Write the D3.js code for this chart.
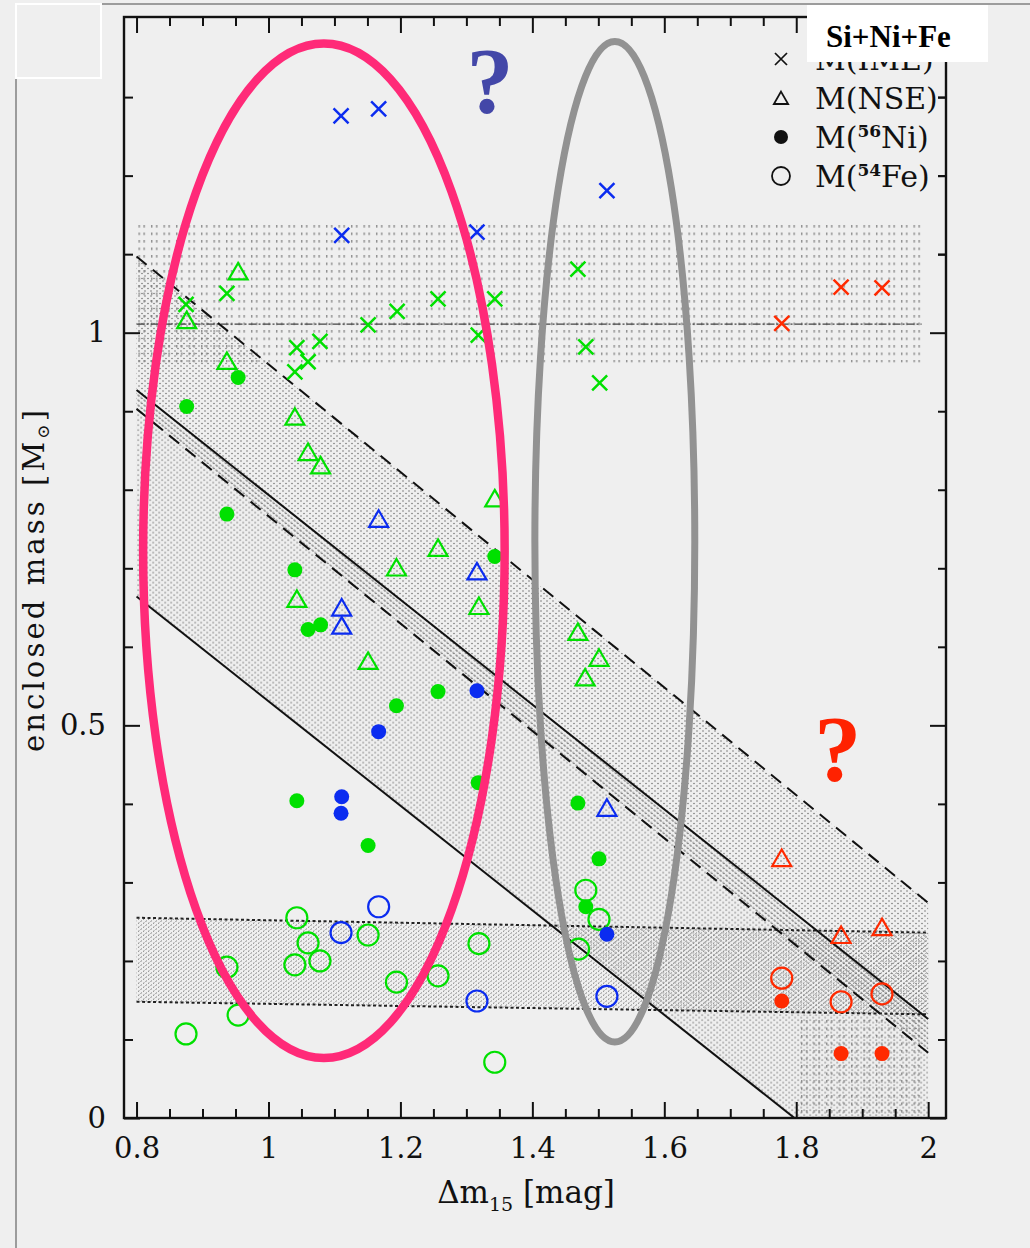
<!DOCTYPE html>
<html><head><meta charset="utf-8">
<script src="https://cdn.jsdelivr.net/npm/d3@7"></script>
<style>html,body{margin:0;padding:0;background:#efefef;}svg{display:block}</style>
</head><body>
<svg id="chart" width="1030" height="1248"></svg>
<script>
// ---------------- data ----------------
const xTickValues = [0.8, 1, 1.2, 1.4, 1.6, 1.8, 2];
const xTickLabels = ["0.8", "1", "1.2", "1.4", "1.6", "1.8", "2"];
const yTickValues = [0, 0.5, 1];
const yTickLabels = ["0", "0.5", "1"];

// M(IME) crosses
const imeGreen = [[0.875,1.036],[0.937,1.050],[1.043,0.981],[1.040,0.950],[1.060,0.963],[1.078,0.989],[1.151,1.010],[1.195,1.027],[1.257,1.043],[1.318,0.997],[1.343,1.043],[1.469,1.081],[1.481,0.982],[1.502,0.936]];
const imeBlue  = [[1.111,1.124],[1.110,1.276],[1.167,1.285],[1.316,1.128],[1.513,1.181]];
const imeRed   = [[1.778,1.012],[1.868,1.058],[1.930,1.057]];
// M(NSE) triangles
const nseGreen = [[0.876,1.016],[0.954,1.078],[0.937,0.964],[1.040,0.893],[1.060,0.848],[1.079,0.831],[1.343,0.789],[1.257,0.726],[1.194,0.701],[1.043,0.661],[1.319,0.652],[1.151,0.582],[1.469,0.619],[1.501,0.586],[1.480,0.561]];
const nseBlue  = [[1.167,0.763],[1.316,0.696],[1.111,0.650],[1.111,0.627],[1.513,0.395]];
const nseRed   = [[1.778,0.331],[1.868,0.233],[1.930,0.243]];
// M(56Ni) filled circles
const niGreen = [[0.954,0.943],[0.876,0.906],[0.937,0.769],[1.343,0.715],[1.040,0.698],[1.060,0.622],[1.079,0.628],[1.257,0.543],[1.194,0.525],[1.318,0.427],[1.043,0.404],[1.151,0.347],[1.469,0.401],[1.501,0.330],[1.481,0.269]];
const niBlue  = [[1.316,0.544],[1.167,0.492],[1.111,0.409],[1.110,0.388],[1.513,0.234]];
const niRed   = [[1.778,0.149],[1.868,0.082],[1.930,0.082]];
// M(54Fe) open circles
const feGreen = [[1.043,0.255],[1.060,0.223],[1.040,0.195],[1.078,0.200],[1.151,0.233],[0.937,0.192],[0.954,0.131],[0.875,0.107],[1.194,0.173],[1.257,0.181],[1.319,0.222],[1.343,0.071],[1.481,0.290],[1.501,0.253],[1.470,0.215]];
const feBlue  = [[1.167,0.269],[1.110,0.236],[1.316,0.149],[1.513,0.155]];
const feRed   = [[1.778,0.178],[1.868,0.148],[1.930,0.158]];

// bands (value at the two x ends)
const bandX     = [0.8, 2.0];
const nseUpper  = [1.097, 0.274];
const nseLower  = [0.903, 0.083];
const niUpper   = [0.927, 0.126];
const niLower   = [0.664, -0.135];
const feUpper   = [0.255, 0.236];
const feLower   = [0.148, 0.132];
const imeBandX  = [0.8, 1.99];
const imeBand   = [0.962, 1.140];
const imeCenter = 1.011;
const tailBoxX  = [1.8, 1.99];
const tailBoxY  = [0, 0.131];

// annotations (data coordinates)
const pinkEllipse = {cx: 1.084, cy: 0.7223, rx: 0.274, ry: 0.6459};
const grayEllipse = {cx: 1.525, cy: 0.7338, rx: 0.1212, ry: 0.637};
const blueQ = {x: 1.3356, y: 1.2815};
const redQ  = {x: 1.863, y: 0.4306};

const legendLabels = ["M(IME)", "M(NSE)", "M(56Ni)", "M(54Fe)"];

// ---------------- drawing ----------------
const svg = d3.select('#chart');
const x = d3.scaleLinear().domain([0.781, 2.027]).range([124, 946]);
const y = d3.scaleLinear().domain([0, 1.402]).range([1118, 17]);
const GREEN = '#00e000', BLUE = '#0b2cf0', RED = '#ff2a00';
const SERIF = "'DejaVu Serif', serif";

svg.append('rect').attr('width',1030).attr('height',1248).attr('fill','#efefef');
// outer frame remnants
svg.append('line').attr('x1',16).attr('x2',1030).attr('y1',4).attr('y2',4).attr('stroke','#9c9c9c').attr('stroke-width',2);
svg.append('line').attr('x1',16).attr('x2',16).attr('y1',4).attr('y2',1248).attr('stroke','#9c9c9c').attr('stroke-width',2);
svg.append('rect').attr('x',16).attr('y',4).attr('width',85).attr('height',74).attr('fill','none').attr('stroke','#ffffff').attr('stroke-width',2);

const defs = svg.append('defs');
defs.append('clipPath').attr('id','plotClip').append('rect')
  .attr('x',x.range()[0]).attr('y',y.range()[1])
  .attr('width',x.range()[1]-x.range()[0]).attr('height',y.range()[0]-y.range()[1]);

function pattern(id, w, h, tx, ty){
  return defs.append('pattern').attr('id',id).attr('patternUnits','userSpaceOnUse')
    .attr('width',w).attr('height',h).attr('patternTransform',`translate(${tx},${ty})`);
}
const pIme = pattern('pIme', 12.5, 7.5, 0, 0);
pIme.append('rect').attr('x',1).attr('y',0).attr('width',1.4).attr('height',2.6).attr('fill','#8c8c8c');
pIme.append('rect').attr('x',6).attr('y',0).attr('width',1.4).attr('height',2.6).attr('fill','#8c8c8c');
const pNse = pattern('pNse', 6, 5, 0, 0);
pNse.append('circle').attr('cx',1).attr('cy',1).attr('r',0.75).attr('fill','#6a6a6a');
pNse.append('circle').attr('cx',4).attr('cy',3.5).attr('r',0.75).attr('fill','#6a6a6a');
const pNi = pattern('pNi', 6, 5, 2.2, 1.6);
pNi.append('circle').attr('cx',1).attr('cy',1).attr('r',0.75).attr('fill','#6a6a6a');
pNi.append('circle').attr('cx',4).attr('cy',3.5).attr('r',0.75).attr('fill','#6a6a6a');
const pFe = pattern('pFe', 5, 4, 0, 0);
pFe.append('path').attr('d','M0.5,1.5L1.9,0.7').attr('stroke','#5a5a5a').attr('stroke-width',0.8);
pFe.append('path').attr('d','M3,3.5L4.4,2.7').attr('stroke','#5a5a5a').attr('stroke-width',0.8);

const plot = svg.append('g').attr('clip-path','url(#plotClip)');

function bandPts(lo, hi){ return bandX.map((bx,i)=>({x:bx, lo:lo[i], hi:hi[i]})); }
const area = d3.area().x(d=>x(d.x)).y0(d=>y(d.lo)).y1(d=>y(d.hi));
const line = d3.line().x(d=>x(d.x)).y(d=>y(d.v));

// IME horizontal band
plot.append('path').datum(imeBandX.map(bx=>({x:bx, lo:imeBand[0], hi:imeBand[1]})))
  .attr('d',area).attr('fill','url(#pIme)');
// tail box
plot.append('path').datum(tailBoxX.map(bx=>({x:bx, lo:tailBoxY[0], hi:tailBoxY[1]})))
  .attr('d',area).attr('fill','url(#pIme)');
// Fe band
plot.append('path').datum(bandPts(feLower, feUpper)).attr('d',area).attr('fill','url(#pFe)');
// NSE and Ni diagonal bands
plot.append('path').datum(bandPts(nseLower, nseUpper)).attr('d',area).attr('fill','url(#pNse)');
plot.append('path').datum(bandPts(niLower, niUpper)).attr('d',area).attr('fill','url(#pNi)');

// band boundary lines
plot.append('path').datum(imeBandX.map(bx=>({x:bx, v:imeCenter})))
  .attr('d',line).attr('fill','none').attr('stroke','#444').attr('stroke-width',1.2).attr('stroke-dasharray','8,2,2,2');
[feUpper, feLower].forEach(arr=>{
  plot.append('path').datum(bandX.map((bx,i)=>({x:bx, v:arr[i]})))
    .attr('d',line).attr('fill','none').attr('stroke','#222').attr('stroke-width',2).attr('stroke-dasharray','3,2.5');
});
[nseUpper, nseLower].forEach(arr=>{
  plot.append('path').datum(bandX.map((bx,i)=>({x:bx, v:arr[i]})))
    .attr('d',line).attr('fill','none').attr('stroke','#111').attr('stroke-width',2).attr('stroke-dasharray','13,8');
});
[niUpper, niLower].forEach(arr=>{
  plot.append('path').datum(bandX.map((bx,i)=>({x:bx, v:arr[i]})))
    .attr('d',line).attr('fill','none').attr('stroke','#111').attr('stroke-width',2);
});

// markers
const shapes = {
  cross: 'M-7.5,-7.5L7.5,7.5M-7.5,7.5L7.5,-7.5',
  tri: 'M0,-8.5L9.5,8L-9.5,8Z'
};
function drawSeries(data, color, kind){
  const g = svg.append('g');
  const sel = g.selectAll('.m').data(data).enter();
  if(kind==='cross' || kind==='tri'){
    sel.append('path').attr('d',shapes[kind])
      .attr('transform',d=>`translate(${x(d[0])},${y(d[1])})`)
      .attr('fill','none').attr('stroke',color).attr('stroke-width',kind==='cross'?2.5:2.2);
  } else if(kind==='dot'){
    sel.append('circle').attr('cx',d=>x(d[0])).attr('cy',d=>y(d[1])).attr('r',7.5).attr('fill',color);
  } else {
    sel.append('circle').attr('cx',d=>x(d[0])).attr('cy',d=>y(d[1])).attr('r',10.5)
      .attr('fill','none').attr('stroke',color).attr('stroke-width',2.2);
  }
}
drawSeries(feGreen, GREEN, 'ring'); drawSeries(feBlue, BLUE, 'ring'); drawSeries(feRed, RED, 'ring');
drawSeries(niGreen, GREEN, 'dot');  drawSeries(niBlue, BLUE, 'dot');  drawSeries(niRed, RED, 'dot');
drawSeries(nseGreen, GREEN, 'tri'); drawSeries(nseBlue, BLUE, 'tri'); drawSeries(nseRed, RED, 'tri');
drawSeries(imeGreen, GREEN, 'cross'); drawSeries(imeBlue, BLUE, 'cross'); drawSeries(imeRed, RED, 'cross');

// axes
function styleAxis(g, keepText){
  g.select('.domain').remove();
  g.selectAll('.tick line').attr('stroke','#111').attr('stroke-width',2);
  g.attr('font-family',SERIF).attr('font-size',29);
  g.selectAll('.tick text').attr('fill','#111');
  if(!keepText) g.selectAll('.tick text').remove();
}
const xMinor = d3.range(0.8, 2.001, 0.05).filter(v=>Math.abs(v*5-Math.round(v*5))>1e-6);
const yMinor = d3.range(0.1, 1.35, 0.1).filter(v=>Math.abs(v*2-Math.round(v*2))>1e-6);
const y0 = y(0), yTop = y(1.402), xL = x(0.781), xR = x(2.027);

styleAxis(svg.append('g').attr('transform',`translate(0,${y0})`)
  .call(d3.axisBottom(x).tickValues(xTickValues).tickSize(-16).tickSizeOuter(0).tickPadding(19).tickFormat((d,i)=>xTickLabels[i])), true);
styleAxis(svg.append('g').attr('transform',`translate(0,${y0})`)
  .call(d3.axisBottom(x).tickValues(xMinor).tickSize(-9).tickSizeOuter(0)), false);
styleAxis(svg.append('g').attr('transform',`translate(0,${yTop})`)
  .call(d3.axisTop(x).tickValues(xTickValues).tickSize(-16).tickSizeOuter(0)), false);
styleAxis(svg.append('g').attr('transform',`translate(0,${yTop})`)
  .call(d3.axisTop(x).tickValues(xMinor).tickSize(-9).tickSizeOuter(0)), false);
styleAxis(svg.append('g').attr('transform',`translate(${xL},0)`)
  .call(d3.axisLeft(y).tickValues(yTickValues).tickSize(-16).tickSizeOuter(0).tickPadding(18).tickFormat((d,i)=>yTickLabels[i])), true);
styleAxis(svg.append('g').attr('transform',`translate(${xL},0)`)
  .call(d3.axisLeft(y).tickValues(yMinor).tickSize(-9).tickSizeOuter(0)), false);
styleAxis(svg.append('g').attr('transform',`translate(${xR},0)`)
  .call(d3.axisRight(y).tickValues(yTickValues).tickSize(-16).tickSizeOuter(0)), false);
styleAxis(svg.append('g').attr('transform',`translate(${xR},0)`)
  .call(d3.axisRight(y).tickValues(yMinor.concat([1.1,1.2,1.3])).tickSize(-8).tickSizeOuter(0)), false);

svg.append('rect').attr('x',xL).attr('y',yTop).attr('width',xR-xL).attr('height',y0-yTop)
  .attr('fill','none').attr('stroke','#111').attr('stroke-width',2.4);

// axis titles
const xt = svg.append('text').attr('x',526).attr('y',1203).attr('text-anchor','middle')
  .attr('font-family',SERIF).attr('font-size',31).attr('fill','#111');
xt.append('tspan').text('Δm');
xt.append('tspan').attr('font-size',19).attr('dy',8).text('15');
xt.append('tspan').attr('dy',-8).text(' [mag]');

const yt = svg.append('text').attr('transform','translate(44,581) rotate(-90)').attr('text-anchor','middle')
  .attr('font-family',SERIF).attr('font-size',29).attr('fill','#111');
yt.append('tspan').text('enclosed mass [M');
yt.append('tspan').attr('font-size',17).attr('dy',5).text('⊙');
yt.append('tspan').attr('dy',-5).text(']');
yt.attr('textLength',342).attr('lengthAdjust','spacing');

// ellipses
[[pinkEllipse,'#ff2a78',8.5],[grayEllipse,'#929292',7]].forEach(([e,c,w])=>{
  svg.append('ellipse').attr('cx',x(e.cx)).attr('cy',y(e.cy))
    .attr('rx',x(e.cx+e.rx)-x(e.cx)).attr('ry',y(e.cy-e.ry)-y(e.cy))
    .attr('fill','none').attr('stroke',c).attr('stroke-width',w);
});

// question marks
[[blueQ,'#4347a8'],[redQ,'#ff2200']].forEach(([q,c])=>{
  svg.append('text').attr('x',x(q.x)).attr('y',y(q.y)).attr('text-anchor','middle')
    .attr('font-family',"'Liberation Serif', serif").attr('font-weight','bold').attr('font-size',94)
    .attr('fill',c).text('?');
});

// legend
const legY = [59, 98, 137, 176];
const legMX = 781, legTX = 815;
const lg = svg.append('g');
lg.append('path').attr('d',shapes.cross).attr('transform',`translate(${legMX},${legY[0]}) scale(0.8)`)
  .attr('fill','none').attr('stroke','#111').attr('stroke-width',2.2);
lg.append('path').attr('d',shapes.tri).attr('transform',`translate(${legMX},${legY[1]}) scale(0.75)`)
  .attr('fill','none').attr('stroke','#111').attr('stroke-width',2.4);
lg.append('circle').attr('cx',legMX).attr('cy',legY[2]).attr('r',7).attr('fill','#111');
lg.append('circle').attr('cx',legMX).attr('cy',legY[3]).attr('r',9).attr('fill','none').attr('stroke','#111').attr('stroke-width',1.8);
legendLabels.forEach((lab,i)=>{
  const t = lg.append('text').attr('x',legTX).attr('y',legY[i]+11)
    .attr('font-family',SERIF).attr('font-size',30).attr('fill','#111');
  const m = lab.match(/^M\((\d+)?(.*)\)$/);
  t.append('tspan').text('M(');
  if(m[1]){
    t.append('tspan').attr('font-size',17).attr('font-weight','bold').attr('dy',-11).text(m[1]);
    t.append('tspan').attr('dy',11).text(m[2] + ')');
  } else {
    t.append('tspan').text(m[2] + ')');
  }
});
// Si+Ni+Fe box
svg.append('rect').attr('x',807).attr('y',5).attr('width',181).attr('height',57).attr('fill','#ffffff');
svg.append('text').attr('x',826).attr('y',47).attr('font-family',"'Liberation Serif', serif")
  .attr('font-weight','bold').attr('font-size',31).attr('fill','#000').text('Si+Ni+Fe');
</script>
</body></html>
